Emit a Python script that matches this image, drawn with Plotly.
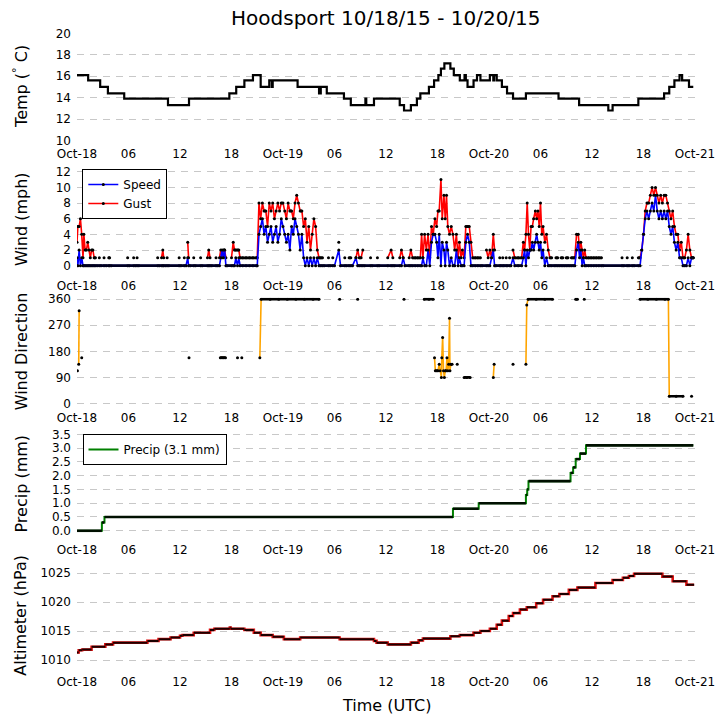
import plotly.graph_objects as go

W, H = 724, 725
FONT = "DejaVu Sans"

# ---------------- data (hours since 2015-10-18 00:00 UTC) ----------------
tick_hours = [0, 6, 12, 18, 24, 30, 36, 42, 48, 54, 60, 66, 72]
tick_labels = ["Oct-18", "06", "12", "18", "Oct-19", "06", "12", "18",
               "Oct-20", "06", "12", "18", "Oct-21"]

temp_hours = [0, 1.3, 2.7, 3.6, 5.5, 10.6, 13.05, 17.75, 18.55, 19.5, 20.5, 21.4,
              22.4, 22.7, 22.8, 25.7, 28.2, 28.4, 29.1, 31.1, 31.9, 33.6, 33.7, 34.6,
              37.6, 38.1, 38.9, 39.6, 40.0, 41.0, 41.6, 42.1, 42.4, 42.8, 43.5, 43.9,
              44.6, 45.15, 45.3, 45.5, 46.2, 46.6, 47.0, 48.1, 48.5, 48.6, 48.9, 49.5,
              50.1, 50.8, 52.3, 56.1, 58.5, 61.9, 62.4, 65.4, 68.4, 69.0, 69.6, 70.2,
              70.5, 71.3, 71.8]
temp_c = [16.1, 15.6, 15.0, 14.4, 13.9, 13.3, 13.9, 14.4, 15.0, 15.6, 16.1, 15.0,
          15.6, 15.0, 15.6, 15.0, 14.4, 15.0, 14.4, 13.9, 13.3, 13.9, 13.3, 13.9,
          13.3, 12.8, 13.3, 13.9, 14.4, 15.0, 15.6, 16.1, 16.7, 17.2, 16.7, 16.1,
          15.6, 16.1, 15.6, 15.0, 15.6, 16.1, 15.6, 16.1, 15.6, 16.1, 15.6, 15.0,
          14.4, 13.9, 14.4, 13.9, 13.3, 12.8, 13.3, 13.9, 14.4, 15.0, 15.6, 16.1,
          15.6, 15.0, 15.0]

N = None
wind_hours = [
    0.0, 0.1, 0.25, 0.4, 0.55, 0.7, 0.8, 0.95, 1.1, 1.25, 1.4, 1.55, 1.7, 1.85, 2.0, 2.15, 2.35,
    2.6, 2.8, 3.15, 3.4, 3.7, 3.8, 4.0, 5.9, 6.1, 6.6, 6.8, 7.0, 7.2,
    9.4, 9.6, 9.85, 10.0, 10.1, 10.3, 10.5, 10.7, 11.9, 12.1, 12.5, 12.7,
    12.9, 13.0, 13.2, 13.6, 13.8, 14.4, 14.6, 15.2, 15.35, 15.5, 15.7, 16.2, 16.4,
    16.6, 16.75, 16.9, 17.05, 17.2, 17.35, 17.5,
    18.0, 18.2, 18.35, 18.5, 18.7, 18.85, 19.0, 19.3, 19.7, 20.1, 20.5, 20.9,
    21.0, 21.2, 21.4, 21.6, 21.8, 22.0, 22.2, 22.4, 22.6, 22.8,
    23.0, 23.2, 23.4, 23.6, 23.8, 24.0, 24.2, 24.4, 24.6, 24.8,
    25.0, 25.2, 25.4, 25.6, 25.8, 26.0, 26.2, 26.4, 26.6, 26.8,
    27.0, 27.2, 27.4, 27.6, 27.8, 28.0, 28.2, 28.4,
    28.6, 28.8, 29.3, 29.5, 29.8, 30.0, 30.5, 30.7, 31.2, 31.4, 31.7, 31.9, 32.1,
    32.5, 32.7, 32.9, 33.1, 33.3, 33.5, 34.2, 34.4, 35.0, 35.2,
    36.2, 36.6, 36.8, 37.0, 37.6, 37.8, 38.0, 38.2, 38.7, 38.9, 39.1, 39.4, 39.7, 40.0,
    40.15, 40.3, 40.5, 40.7, 40.9, 41.1, 41.3, 41.5, 41.7, 41.9,
    42.05, 42.2, 42.4, 42.55, 42.75, 42.9, 43.05, 43.2, 43.4, 43.6,
    43.8, 44.0, 44.2, 44.4, 44.55, 44.75, 44.9, 45.1, 45.3, 45.5,
    45.7, 45.9, 46.1, 46.4, 46.7, 47.0, 47.2,
    47.7, 47.9, 48.1, 48.3, 48.5, 48.65, 48.8,
    49.25, 49.4, 49.6, 49.75, 50.0, 50.15, 50.4, 50.55, 50.8, 51.0, 51.4, 51.8,
    52.0, 52.15, 52.3, 52.45, 52.6, 52.75, 52.9, 53.05, 53.2, 53.4,
    53.55, 53.7, 53.85, 54.0, 54.15, 54.3, 54.5, 54.7, 54.9, 55.1, 55.3,
    55.6, 55.8, 56.0, 56.2, 56.4, 56.6, 56.8, 57.0, 57.2, 57.4, 57.6, 57.8,
    58.0, 58.2, 58.4, 58.55, 58.7, 58.85, 59.0, 59.15, 59.3, 59.6, 59.9, 60.2, 60.5, 60.8, 61.1, 61.3,
    63.5, 63.7, 64.1, 64.3, 64.7, 64.9, 65.4,
    65.6, 65.8, 66.0, 66.2, 66.4, 66.6, 66.8, 67.0, 67.2, 67.4,
    67.6, 67.8, 68.0, 68.2, 68.4, 68.6, 68.8, 69.0, 69.2, 69.4,
    69.6, 69.8, 70.0, 70.2, 70.4, 70.6, 70.8, 71.0, 71.2, 71.4, 71.6, 71.8,
]
wind_speed = [
    1, 0, 2, 0, 1, 0, 0, 0, 0, 0, 0, 0, 0, 0, 0, 0, 0,
    0, 0, 0, 0, 0, 0, 0, 0, 0, 0, 0, 0, 0,
    0, 0, 0, 0, 0, 0, 0, 0, 0, 0, 0, 0,
    1, 0, 0, 0, 0, 0, 0, 0, 0, 0, 0, 0, 0,
    0, 1, 2, 1, 2, 0, 0,
    0, 0, 0, 1, 0, 1, 0, 0, 0, 0, 0, 0,
    0, 4, 5, 6, 4, 5, 3, 4, 5, 3,
    4, 5, 3, 4, 6, 5, 4, 3, 4, 2,
    5, 4, 6, 5, 4, 2, 4, 1, 0, 1,
    0, 1, 0, 1, 0, 1, 0, 0,
    0, 0, 0, 0, 0, 0, 2, 0, 0, 0, 0, 0, 0,
    1, 0, 0, 0, 0, 0, 0, 0, 0, 0,
    0, 0, 0, 0, 0, 0, 1, 0, 0, 0, 0, 0, 0, 0,
    0, 1, 0, 0, 2, 0, 3, 4, 4, 3,
    1, 4, 0, 3, 2, 0, 3, 2, 0, 1,
    0, 0, 2, 0, 1, 0, 0, 0, 3, 4,
    3, 0, 0, 0, 0, 0, 0,
    0, 0, 0, 1, 2, 0, 0,
    0, 0, 0, 0, 0, 0, 0, 0, 1, 0, 0, 0,
    1, 2, 0, 2, 1, 2, 2, 3, 2, 3,
    4, 3, 2, 3, 1, 2, 0, 1, 0, 0, 0,
    0, 0, 0, 0, 0, 0, 0, 0, 0, 0, 0, 0,
    0, 2, 3, 1, 2, 0, 1, 0, 0, 0, 0, 0, 0, 0, 0, 0,
    0, 0, 0, 0, 0, 0, 0,
    0, 2, 4, 6, 7, 6, 7, 8, 7, 9,
    7, 6, 7, 6, 7, 6, 7, 5, 4, 5,
    3, 2, 3, 1, 1, 0, 0, 0, 1, 0, 1, 1,
]
wind_gust = [
    3, 5, 5, 6, 4, 1, 4, 2, 2, 3, 2, 1, 2, 2, 1, 1, N,
    1, N, 1, N, 1, 1, N, 1, N, 1, N, 1, N,
    1, N, 1, 2, 1, N, 1, N, 1, N, 1, N,
    3, 1, N, 1, N, 1, N, 1, 2, 1, N, 1, N,
    1, 2, 1, 2, 2, 1, N,
    1, 3, 2, 2, 2, 2, 1, 1, 1, 1, 1, 1,
    1, 8, 6, 8, 7, 7, 5, 8, 7, 8,
    6, 7, 8, 7, 8, 8, 7, 6, 8, 7,
    7, 6, 8, 9, 8, 7, 7, 5, 6, 3,
    5, 2, 4, 6, 5, 2, 1, 1,
    1, N, 1, N, 1, N, 3, N, 1, N, 1, 1, N,
    1, 2, 1, 1, 2, N, 1, N, 1, N,
    1, 2, 1, N, 1, 2, 1, N, 1, 2, 1, 1, 1, 1,
    4, 1, 4, 2, 4, 1, 5, 4, 6, 5,
    7, 7, 11, 6, 9, 6, 9, 5, 4, 5,
    4, 2, 4, 1, 3, 1, 2, 1, 5, 5,
    5, 3, 1, 1, 1, 1, N,
    2, 1, 2, 1, 4, 2, N,
    1, N, 1, N, 1, N, 1, N, 2, 1, 1, 1,
    3, 2, 4, 8, 4, 2, 5, 5, 6, 7,
    6, 7, 5, 8, 4, 5, 3, 4, 2, 1, 1,
    N, 1, 1, N, 1, 1, N, 1, 1, N, 1, 1,
    1, 4, 4, 2, 3, 2, 1, 2, 1, 1, 1, 1, 1, 1, 1, N,
    1, N, 1, N, 1, N, 1,
    1, 2, 4, 7, 8, 8, 9, 10, 9, 10,
    9, 8, 9, 8, 9, 9, 8, 7, 6, 7,
    5, 4, 4, 2, 3, 1, 1, 2, 4, 2, 1, 1,
]

dir_hours = [0.05, 0.12, 0.2, 0.25, 0.35, 0.55, 0.7,
             13.05, 13.2,
             16.7, 16.9, 17.1, 17.3, 17.5,
             18.7, 18.85, 19.2, 19.35,
             21.3, 21.45, 22.5, 23.5, 24.5, 25.5, 26.5, 27.5, 28.2, 28.4,
             30.6, 30.75, 32.7, 32.85, 38.1, 38.25,
             40.45, 41.0, 41.5, 41.6,
             41.65, 41.75, 41.9, 42.05, 42.2, 42.3, 42.45, 42.5, 42.6, 42.7,
             42.8, 42.9, 43.0, 43.1, 43.2, 43.3, 43.4, 43.45, 43.55, 43.7, 43.8,
             44.3, 44.45,
             45.1, 45.4, 45.8, 45.95,
             48.5, 48.6, 48.75,
             50.8, 50.95,
             52.3, 52.4, 52.55, 53.5, 54.5, 55.4, 55.55,
             58.1, 58.3, 58.45, 59.1, 59.25,
             65.6, 66.5, 67.5, 68.5, 68.9, 69.0, 69.8, 70.6, 70.75,
             71.6]
dir_deg = [113, N, 135, 320, N, 158, N,
           158, N,
           158, 158, 158, 158, N,
           158, N, 158, N,
           158, 360, 360, 360, 360, 360, 360, 360, 360, N,
           360, N, 360, N, 360, N,
           360, 360, 360, N,
           158, 113, 113, 113, 135, 113, 90, 158, 228, 113,
           90, 113, 113, 158, 113, 135, 294, 113, 135, 135, N,
           135, N,
           90, 90, 90, N,
           90, 135, N,
           135, N,
           135, 340, 360, 360, 360, 360, N,
           360, 360, N, 360, N,
           360, 360, 360, 360, 360, 25, 25, 25, N,
           25]

precip_hours = [0, 2.9, 3.2, 43.8, 46.8, 52.3, 52.45, 52.6, 57.5, 57.8, 58.1, 58.6, 59.3, 71.8]
precip_mm = [0.0, 0.3, 0.5, 0.8, 1.0, 1.3, 1.5, 1.8, 2.1, 2.3, 2.6, 2.8, 3.1, 3.1]
precip_total = 3.1

alt_hours = [0, 0.2, 0.6, 1.7, 3.3, 4.2, 8.2, 9.5, 10.9, 12.0, 12.3, 13.6, 15.5, 16.0,
             17.8, 17.9, 19.5, 20.6, 21.4, 22.8, 24.1, 26.0, 30.6, 34.6, 34.9, 36.2,
             38.9, 39.8, 40.3, 43.5, 44.6, 46.2, 47.0, 48.1, 48.9, 49.5, 50.3, 50.8,
             51.6, 52.4, 53.5, 54.3, 55.4, 56.2, 57.3, 58.3, 60.4, 62.4, 63.6, 64.3,
             64.9, 68.2, 69.4, 71.0, 71.9]
alt_hpa = [1011.3, 1011.7, 1011.8, 1012.3, 1012.7, 1013.0, 1013.3, 1013.6, 1013.9, 1014.2,
           1014.3, 1014.7, 1015.2, 1015.4, 1015.6, 1015.4, 1015.2, 1014.7, 1014.3, 1014.0,
           1013.6, 1013.9, 1013.6, 1013.3, 1013.0, 1012.7, 1013.0, 1013.4, 1013.7, 1014.1,
           1014.3, 1014.7, 1015.0, 1015.4, 1016.1, 1016.8, 1017.6, 1018.1, 1018.7, 1019.1,
           1019.8, 1020.4, 1021.0, 1021.4, 1022.1, 1022.5, 1023.3, 1023.8, 1024.2, 1024.5,
           1024.9, 1024.4, 1023.6, 1023.0, 1023.0]

assert len(wind_hours) == len(wind_speed) == len(wind_gust)
assert len(dir_hours) == len(dir_deg)
assert len(temp_hours) == len(temp_c)
assert len(alt_hours) == len(alt_hpa)


# ---------------- helpers: black "flat" segments (dense markers in original) ----
def flat_runs(xs, ys):
    rx, ry = [], []
    for i in range(len(xs) - 1):
        a, b = ys[i], ys[i + 1]
        if a is not None and b is not None and a == b:
            rx += [xs[i], xs[i + 1], None]
            ry += [a, b, None]
    return rx, ry


def step_runs(xs, ys):
    rx, ry = [], []
    for i in range(len(xs) - 1):
        if ys[i] is not None:
            rx += [xs[i], xs[i + 1], None]
            ry += [ys[i], ys[i], None]
    return rx, ry


# ---------------- geometry ----------------
X0, X1 = 77, 695
panels = [(33.3, 140.5), (165.5, 272.7), (297.7, 404.9), (429.9, 537.1), (562.1, 669.3)]
yranges = [[10, 20], [-0.9, 12.8], [-5, 365], [-0.23, 3.66], [1008.4, 1026.9]]
yticks = [[10, 12, 14, 16, 18, 20], [0, 2, 4, 6, 8, 10, 12], [0, 90, 180, 270, 360],
          [0, 0.5, 1, 1.5, 2, 2.5, 3, 3.5], [1010, 1015, 1020, 1025]]
ylabels = ["Temp (<sup>°</sup> C)", "Wind (mph)", "Wind Direction", "Precip (mm)", "Altimeter (hPa)"]

fig = go.Figure()
MK = dict(color="black", size=3)

# Panel 1: temperature
fig.add_trace(go.Scatter(x=temp_hours, y=temp_c, mode="lines", line=dict(color="black", width=2.2, shape="hv"),
                         showlegend=False, xaxis="x", yaxis="y", hoverinfo="skip"))

# Panel 2: wind
fig.add_trace(go.Scatter(x=wind_hours, y=wind_gust, mode="lines+markers", name="Gust",
                         line=dict(color="red", width=1.6), marker=MK, legend="legend", legendrank=2,
                         xaxis="x2", yaxis="y2"))
gx, gy = flat_runs(wind_hours, wind_gust)
fig.add_trace(go.Scatter(x=gx, y=gy, mode="lines", line=dict(color="black", width=2.6),
                         showlegend=False, xaxis="x2", yaxis="y2", hoverinfo="skip"))
fig.add_trace(go.Scatter(x=wind_hours, y=wind_speed, mode="lines+markers", name="Speed",
                         line=dict(color="blue", width=1.6), marker=MK, legend="legend", legendrank=1,
                         xaxis="x2", yaxis="y2"))
sx, sy = flat_runs(wind_hours, wind_speed)
fig.add_trace(go.Scatter(x=sx, y=sy, mode="lines", line=dict(color="#000022", width=2.6),
                         showlegend=False, xaxis="x2", yaxis="y2", hoverinfo="skip"))

# Panel 3: wind direction
fig.add_trace(go.Scatter(x=dir_hours, y=dir_deg, mode="lines+markers", line=dict(color="orange", width=1.6),
                         marker=MK, showlegend=False, xaxis="x3", yaxis="y3"))
dx, dy = flat_runs(dir_hours, dir_deg)
fig.add_trace(go.Scatter(x=dx, y=dy, mode="lines", line=dict(color="black", width=2.6),
                         showlegend=False, xaxis="x3", yaxis="y3", hoverinfo="skip"))

# Panel 4: precipitation
fig.add_trace(go.Scatter(x=precip_hours, y=precip_mm, mode="lines", name=f"Precip ({precip_total:.1f} mm)",
                         line=dict(color="green", width=2, shape="hv"), legend="legend2",
                         xaxis="x4", yaxis="y4"))
px_, py_ = step_runs(precip_hours, precip_mm)
fig.add_trace(go.Scatter(x=px_, y=py_, mode="lines", line=dict(color="#001000", width=2.6),
                         showlegend=False, xaxis="x4", yaxis="y4", hoverinfo="skip"))

# Panel 5: altimeter
fig.add_trace(go.Scatter(x=alt_hours, y=alt_hpa, mode="lines", line=dict(color="#e01010", width=2.6, shape="hv"),
                         showlegend=False, xaxis="x5", yaxis="y5"))
ax_, ay_ = step_runs(alt_hours, alt_hpa)
fig.add_trace(go.Scatter(x=ax_, y=ay_, mode="lines", line=dict(color="#1a0000", width=2),
                         showlegend=False, xaxis="x5", yaxis="y5", hoverinfo="skip"))

layout = dict(
    width=W, height=H, margin=dict(l=0, r=0, t=0, b=0, autoexpand=False),
    paper_bgcolor="white", plot_bgcolor="white",
    font=dict(family=FONT, size=12, color="black"),
    legend=dict(x=82.3 / W, y=1 - 169 / H, xanchor="left", yanchor="top",
                bordercolor="black", borderwidth=1, bgcolor="white",
                font=dict(size=12, family=FONT, color="black"), itemwidth=30, tracegroupgap=0),
    legend2=dict(x=82.5 / W, y=1 - 434 / H, xanchor="left", yanchor="top",
                 bordercolor="black", borderwidth=1, bgcolor="white",
                 font=dict(size=12, family=FONT, color="black"), itemwidth=30),
)

annotations = [
    dict(text="Hoodsport 10/18/15 - 10/20/15", x=(X0 + X1) / 2 / W, y=1 - 18 / H, xref="paper", yref="paper",
         xanchor="center", yanchor="middle", showarrow=False, font=dict(size=20, family=FONT, color="black")),
    dict(text="Time (UTC)", x=(X0 + X1) / 2 / W, y=1 - 705 / H, xref="paper", yref="paper",
         xanchor="center", yanchor="middle", showarrow=False, font=dict(size=16, family=FONT, color="black")),
]

for i, ((top, bot), yr, yt, yl) in enumerate(zip(panels, yranges, yticks, ylabels)):
    n = "" if i == 0 else str(i + 1)
    layout["xaxis" + n] = dict(domain=[X0 / W, X1 / W], anchor="y" + n, range=[0, 72],
                               tickmode="array", tickvals=tick_hours, ticktext=tick_labels,
                               showgrid=False, zeroline=False, showline=False, ticks="",
                               automargin=False, ticklabelstandoff=4,
                               tickfont=dict(size=12, family=FONT, color="black"))
    layout["yaxis" + n] = dict(domain=[1 - bot / H, 1 - top / H], anchor="x" + n, range=yr,
                               tickmode="array", tickvals=yt,
                               tickformat=".1f" if i == 3 else None,
                               showgrid=True, gridcolor="#c8c8c8", gridwidth=1, griddash="7px,6px",
                               zeroline=False, showline=False, ticks="",
                               automargin=False, ticklabelstandoff=5,
                               tickfont=dict(size=12, family=FONT, color="black"))
    annotations.append(dict(text=yl, x=21 / W, y=1 - (top + bot) / 2 / H, xref="paper", yref="paper",
                            xanchor="center", yanchor="middle", textangle=-90, showarrow=False,
                            font=dict(size=16, family=FONT, color="black")))

layout["annotations"] = annotations
fig.update_layout(**layout)
fig.write_html("out.html", config={"displayModeBar": False},
               post_script="document.body.style.margin='0';document.body.style.padding='0';"
                           "document.body.style.overflow='hidden';")
